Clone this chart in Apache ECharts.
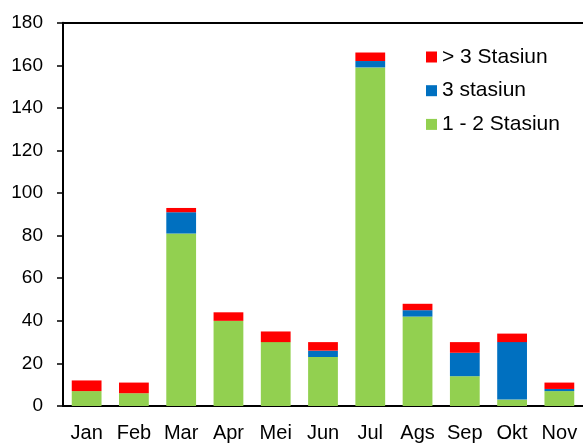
<!DOCTYPE html>
<html>
<head>
<meta charset="utf-8">
<script src="https://cdn.jsdelivr.net/npm/echarts@6/dist/echarts.min.js"></script>
<style>
html,body{margin:0;padding:0;background:#fff;}
#chart{width:583px;height:443px;}
</style>
</head>
<body>
<div id="chart"></div>
<script>
const categories = ['Jan','Feb','Mar','Apr','Mei','Jun','Jul','Ags','Sep','Okt','Nov'];
const seriesNames = ['1 - 2 Stasiun','3 stasiun','> 3 Stasiun'];
const stasiun12 = [7, 6, 81, 40, 30, 23, 159, 42, 14, 3, 7];
const stasiun3 = [0, 0, 10, 0, 0, 3, 3, 3, 11, 27, 1];
const stasiunLebih3 = [5, 5, 2, 4, 5, 4, 4, 3, 5, 4, 3];
const yTicks = [0, 20, 40, 60, 80, 100, 120, 140, 160, 180];

const FONT = '"Liberation Sans", Arial, sans-serif';
const chart = echarts.init(document.getElementById('chart'), null, {renderer:'canvas'});
const colors = ['#92D050', '#0070C0', '#FF0000'];
const values = [stasiun12, stasiun3, stasiunLebih3];

chart.setOption({
  animation: false,
  grid: {left: 63, top: 22.7, width: 524, height: 385.6, containLabel: false},
  legend: {
    orient: 'vertical',
    left: 421,
    top: 41.5,
    icon: 'rect',
    itemWidth: 11,
    itemHeight: 11,
    itemGap: 12.7,
    data: [seriesNames[2], seriesNames[1], seriesNames[0]],
    textStyle: {fontFamily: FONT, fontSize: 21, color: '#000', lineHeight: 20}
  },
  xAxis: [{
    type: 'category',
    data: categories,
    axisLine: {lineStyle: {color: '#000', width: 2}},
    axisTick: {show: false},
    axisLabel: {fontFamily: FONT, fontSize: 20, color: '#000', margin: 17}
  }, {
    type: 'category',
    position: 'top',
    data: categories,
    axisLine: {lineStyle: {color: '#000', width: 2}},
    axisTick: {show: false},
    axisLabel: {show: false}
  }],
  yAxis: {
    type: 'value',
    min: yTicks[0],
    max: yTicks[yTicks.length - 1],
    interval: 20,
    axisLine: {show: true, lineStyle: {color: '#000', width: 2}},
    axisTick: {show: true, length: 6, lineStyle: {color: '#000', width: 1.5}},
    splitLine: {show: false},
    axisLabel: {fontFamily: FONT, fontSize: 19, color: '#000', margin: 20}
  },
  series: seriesNames.map((n, i) => ({
    name: n,
    type: 'bar',
    stack: 'total',
    barWidth: '63%',
    data: values[i],
    itemStyle: {color: colors[i]}
  }))
});
</script>
</body>
</html>
